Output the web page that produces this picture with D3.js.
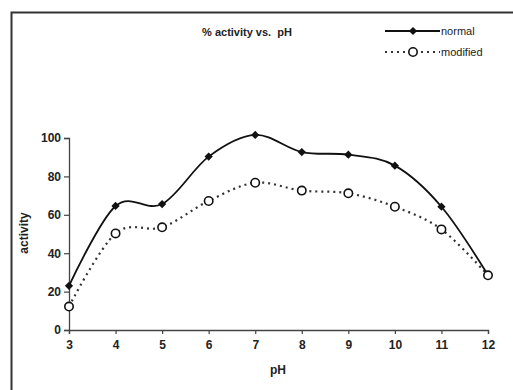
<!DOCTYPE html>
<html>
<head>
    <title>% activity vs. pH</title>
    <script src="https://d3js.org/d3.v7.min.js"></script>
    <style>
        body { margin: 0; padding: 0; background: #fff; overflow: hidden; }
        text { font-family: "Liberation Sans", Arial, sans-serif; fill: #222; white-space: pre; }
    </style>
</head>
<body>
    <script>
        // values
        var phValues = [3, 4, 5, 6, 7, 8, 9, 10, 11, 12];
        var normal = [23, 64.6, 65.6, 90.3, 101.6, 92.7, 91.3, 85.6, 64.2, 28.6];
        var modified = [12.2, 50.3, 53.5, 67.2, 76.7, 72.6, 71.2, 64.2, 52.4, 28.5];
        var yTicks = [0, 20, 40, 60, 80, 100];

        var width = 513, height = 390;
        var svg = d3.select("body").append("svg")
            .attr("width", width)
            .attr("height", height);

        // frame (only left and top edges show in the picture)
        svg.append("path")
            .attr("d", "M11.5," + height + "V12.5H" + width)
            .attr("fill", "none")
            .attr("stroke", "#333")
            .attr("stroke-width", 2);

        var x = d3.scaleLinear().domain([3, 12]).range([69, 488]);
        var y = d3.scaleLinear().domain([0, 100]).range([330, 138]);

        var yAxis = svg.append("g")
            .attr("transform", "translate(69,0)")
            .call(d3.axisLeft(y).tickValues(yTicks).tickSize(5).tickPadding(3));
        var xAxis = svg.append("g")
            .attr("transform", "translate(0,330)")
            .call(d3.axisBottom(x).tickValues(phValues).tickSize(4).tickPadding(6));

        [xAxis, yAxis].forEach(function (g) {
            g.select(".domain").attr("stroke", "#444").attr("stroke-width", 1.3);
            g.selectAll(".tick line").attr("stroke", "#444").attr("stroke-width", 1.2);
            g.selectAll("text")
                .style("font-family", "'Liberation Sans', Arial, sans-serif")
                .style("font-size", "12px")
                .style("font-weight", "bold")
                .attr("fill", "#222");
        });

        var line = d3.line()
            .x(function (d, i) { return x(phValues[i]); })
            .y(function (d) { return y(d); })
            .curve(d3.curveCatmullRom.alpha(0));

        svg.append("path")
            .datum(modified)
            .attr("d", line)
            .attr("fill", "none")
            .attr("stroke", "#333")
            .attr("stroke-width", 2.2)
            .attr("stroke-dasharray", "2,4");

        svg.append("path")
            .datum(normal)
            .attr("d", line)
            .attr("fill", "none")
            .attr("stroke", "#111")
            .attr("stroke-width", 1.8);

        // squat diamond: a square turned 45 degrees
        var diamond = d3.symbol().type(d3.symbolSquare).size(34);

        svg.selectAll(".norm")
            .data(normal)
            .enter().append("path")
            .attr("class", "norm")
            .attr("transform", function (d, i) { return "translate(" + x(phValues[i]) + "," + y(d) + ") rotate(45)"; })
            .attr("d", diamond)
            .attr("fill", "#111");

        svg.selectAll(".mod")
            .data(modified)
            .enter().append("circle")
            .attr("class", "mod")
            .attr("cx", function (d, i) { return x(phValues[i]); })
            .attr("cy", function (d) { return y(d); })
            .attr("r", 4.2)
            .attr("fill", "#fff")
            .attr("stroke", "#111")
            .attr("stroke-width", 1.6);

        // title and axis labels
        svg.append("text")
            .attr("x", 247).attr("y", 36)
            .attr("text-anchor", "middle")
            .style("font-size", "11px").style("font-weight", "bold")
            .text("% activity vs.  pH");

        svg.append("text")
            .attr("x", 278).attr("y", 374)
            .attr("text-anchor", "middle")
            .style("font-size", "12px").style("font-weight", "bold")
            .text("pH");

        svg.append("text")
            .attr("transform", "translate(28,233) rotate(-90)")
            .attr("text-anchor", "middle")
            .style("font-size", "12px").style("font-weight", "bold")
            .text("activity");

        // legend
        var legend = svg.append("g");
        legend.append("line")
            .attr("x1", 385).attr("x2", 440).attr("y1", 31).attr("y2", 31)
            .attr("stroke", "#111").attr("stroke-width", 1.8);
        legend.append("path")
            .attr("transform", "translate(413,31) rotate(45)")
            .attr("d", diamond)
            .attr("fill", "#111");
        legend.append("line")
            .attr("x1", 385).attr("x2", 440).attr("y1", 52).attr("y2", 52)
            .attr("stroke", "#333").attr("stroke-width", 2.2)
            .attr("stroke-dasharray", "2,4");
        legend.append("circle")
            .attr("cx", 413).attr("cy", 52).attr("r", 4.2)
            .attr("fill", "#fff").attr("stroke", "#111").attr("stroke-width", 1.6);
        legend.append("text")
            .attr("x", 441).attr("y", 35)
            .style("font-size", "11px")
            .text("normal");
        legend.append("text")
            .attr("x", 441).attr("y", 56)
            .style("font-size", "11px")
            .text("modified");
    </script>
</body>
</html>
